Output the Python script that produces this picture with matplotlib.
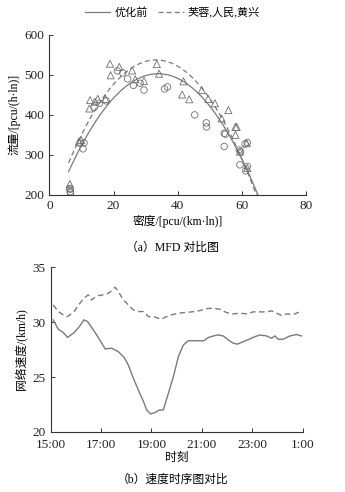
import numpy as np
import matplotlib
matplotlib.use("Agg")
import matplotlib.pyplot as plt

plt.rcParams['font.family'] = ['Liberation Serif', 'Noto Sans CJK SC']

# ---- panel (a): MFD scatter + fitted curves ----
circle_density = [6.5, 6.5, 6.6, 6.4, 9.6, 10.5, 10.8, 14.0, 15.6, 17.7, 21.2, 22.9, 24.4,
                  26.2, 28.3, 29.5, 35.9, 36.8, 45.3, 48.9, 49.0, 54.5, 54.9, 54.5, 59.2,
                  59.4, 61.2, 61.7, 61.0, 61.7, 59.6]
circle_flow = [208, 214, 205, 216, 329, 315, 330, 419, 429, 435, 510, 505, 490,
               474, 479, 462, 465, 470, 400, 380, 370, 354, 352, 321, 312,
               275, 260, 331, 327, 271, 308]
tri_density = [6.4, 9.2, 9.9, 12.5, 12.7, 14.2, 15.1, 17.5, 18.9, 19.1, 21.8, 25.8, 26.8,
               29.5, 33.5, 34.2, 41.8, 41.4, 43.6, 47.5, 49.5, 51.6, 53.7, 55.8, 58.0,
               58.4, 58.0, 61.5, 59.4, 61.7]
tri_flow = [227, 333, 337, 416, 437, 433, 440, 440, 528, 499, 520, 511, 489,
            485, 527, 503, 484, 451, 439, 462, 440, 429, 391, 412, 370,
            370, 350, 329, 308, 267]

# quadratic MFD fits (coefficients a, b, c of a*k^2 + b*k + c)
fit_before = [-0.314, 21.31, 141.4]
fit_after = [-0.3462, 23.04, 154.2]

legend_labels = ["优化前", "芙蓉,人民,黄兴"]

# ---- panel (b): network speed time series ----
t_before = [0.1, 0.3, 0.5, 0.67, 0.93, 1.14, 1.32, 1.46, 1.69, 1.93, 2.16, 2.42, 2.69, 2.91,
            3.08, 3.28, 3.52, 3.68, 3.81, 3.97, 4.14, 4.31, 4.47, 4.67, 4.87, 5.07, 5.26,
            5.46, 5.66, 5.9, 6.08, 6.26, 6.46, 6.65, 6.85, 7.05, 7.25, 7.41, 7.65, 7.88,
            8.11, 8.31, 8.57, 8.77, 8.9, 9.03, 9.23, 9.5, 9.76, 9.96]
v_before = [30.2, 29.35, 29.05, 28.6, 29.05, 29.6, 30.2, 30.05, 29.3, 28.45, 27.56, 27.62,
            27.3, 26.8, 26.1, 24.9, 23.6, 22.8, 22.0, 21.64, 21.76, 22.0, 22.0, 23.5, 25.04,
            26.86, 27.9, 28.3, 28.3, 28.3, 28.3, 28.6, 28.74, 28.83, 28.74, 28.38, 28.08,
            27.99, 28.23, 28.44, 28.68, 28.83, 28.74, 28.53, 28.74, 28.44, 28.44, 28.74,
            28.87, 28.74]
t_after = [0.1, 0.3, 0.5, 0.67, 0.93, 1.14, 1.32, 1.49, 1.62, 1.83, 2.09, 2.29, 2.42, 2.55,
           2.69, 2.86, 3.08, 3.28, 3.48, 3.68, 3.88, 4.14, 4.4, 4.6, 4.8, 5.07, 5.33, 5.6,
           5.93, 6.19, 6.46, 6.72, 6.98, 7.25, 7.51, 7.78, 8.04, 8.31, 8.57, 8.77, 8.97,
           9.17, 9.37, 9.63, 9.89]
v_after = [31.57, 30.96, 30.66, 30.5, 30.96, 31.66, 32.18, 32.48, 32.02, 32.39, 32.48, 32.63,
           32.84, 33.18, 32.78, 32.08, 31.57, 31.11, 30.96, 30.96, 30.5, 30.45, 30.26, 30.5,
           30.66, 30.81, 30.87, 30.93, 31.05, 31.23, 31.26, 31.17, 30.87, 30.75, 30.81,
           30.75, 30.93, 30.93, 30.93, 31.02, 30.81, 30.6, 30.75, 30.69, 30.93]
time_ticks = [0, 2, 4, 6, 8, 10]
time_labels = ["15:00", "17:00", "19:00", "21:00", "23:00", "1:00"]

line_col = "#7a7a7a"
mark_col = "#6e6e6e"
axis_col = "#333333"
fam = ['Liberation Serif', 'Noto Sans CJK SC']


def style_axes(ax):
    for s in ["top", "right"]:
        ax.spines[s].set_visible(False)
    for s in ["left", "bottom"]:
        ax.spines[s].set_color(axis_col)
        ax.spines[s].set_linewidth(0.8)
    ax.tick_params(direction="in", length=3, width=0.7, colors=axis_col,
                   labelsize=9.5, labelcolor="#222222")


fig = plt.figure(figsize=(3.45, 4.92), dpi=100)

# panel (a)
ax1 = fig.add_axes([0.143, 0.604, 0.744, 0.325])
k1 = np.linspace(6, 65.2, 200)
q1 = np.polyval(fit_before, k1)
k2 = np.linspace(6, 64.6, 200)
q2 = np.polyval(fit_after, k2)
l1, = ax1.plot(k1, q1, color=line_col, lw=0.9)
l2, = ax1.plot(k2, q2, color=line_col, lw=0.9, ls=(0, (4, 2.5)))
ax1.scatter(circle_density, circle_flow, s=22, marker="o", facecolors="none",
            edgecolors=mark_col, linewidths=0.6, zorder=3)
ax1.scatter(tri_density, tri_flow, s=26, marker="^", facecolors="none",
            edgecolors=mark_col, linewidths=0.6, zorder=3)
ax1.set_xlim(0, 80)
ax1.set_ylim(200, 600)
ax1.set_xticks([0, 20, 40, 60, 80])
ax1.set_yticks([200, 300, 400, 500, 600])
style_axes(ax1)
ax1.set_xlabel("密度/[pcu/(km·ln)]", fontsize=8.5, family=fam, labelpad=2)
ax1.set_ylabel("流量/[pcu/(h·ln)]", fontsize=8.5, family=fam, labelpad=3)
fig.legend([l1, l2], legend_labels, loc="center", bbox_to_anchor=(0.5, 0.975),
           ncol=2, frameon=False, prop={'family': fam, 'size': 8},
           handlelength=2.3, columnspacing=0.9, handletextpad=0.4)
fig.text(0.5, 0.496, "（a）MFD 对比图", ha="center", va="center", fontsize=8.5, family=fam)

# panel (b)
ax2 = fig.add_axes([0.147, 0.122, 0.730, 0.335])
ax2.plot(t_before, v_before, color=line_col, lw=1.0)
ax2.plot(t_after, v_after, color=line_col, lw=1.0, ls=(0, (4, 2.5)))
ax2.set_xlim(0, 10)
ax2.set_ylim(20, 35)
ax2.set_xticks(time_ticks)
ax2.set_xticklabels(time_labels)
ax2.set_yticks([20, 25, 30, 35])
style_axes(ax2)
ax2.tick_params(axis="x", pad=5)
ax2.set_xlabel("时刻", fontsize=8.5, family=fam, labelpad=1)
ax2.set_ylabel("网络速度/(km/h)", fontsize=8.5, family=fam, labelpad=4)
fig.text(0.5, 0.025, "（b）速度时序图对比", ha="center", va="center", fontsize=8.5, family=fam)

fig.savefig("out.png", dpi=100)
